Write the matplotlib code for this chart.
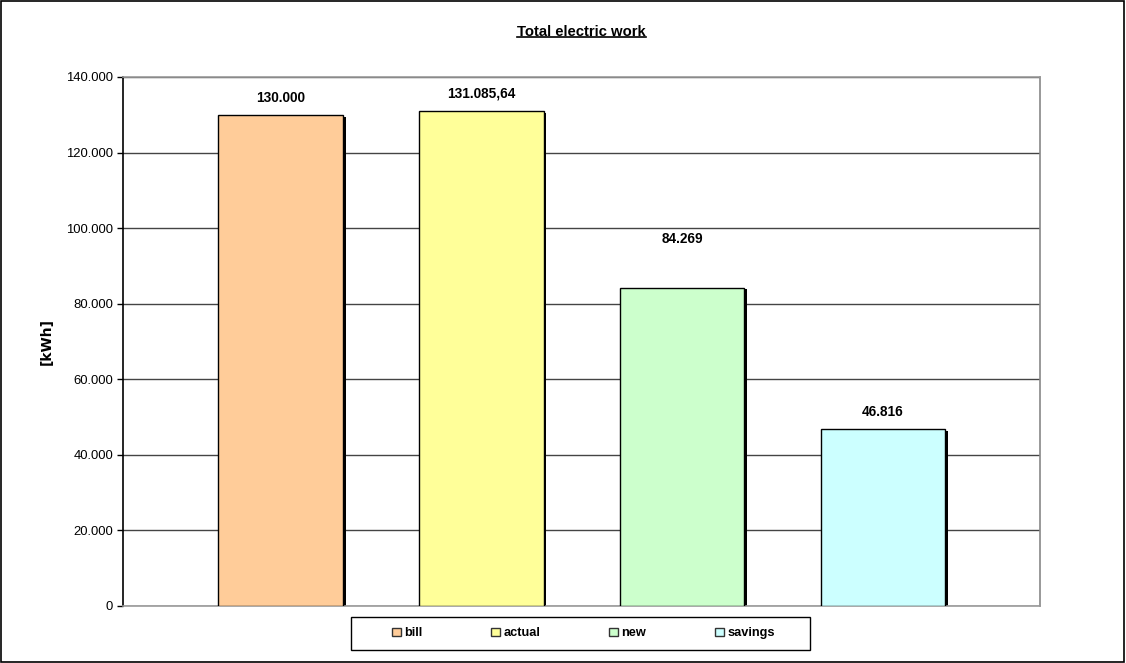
import matplotlib.pyplot as plt
from matplotlib.patches import Patch, Rectangle
from matplotlib.lines import Line2D
from matplotlib.ticker import FuncFormatter

plt.rcParams['font.family'] = ['Liberation Sans', 'DejaVu Sans']

# data
categories = ['bill', 'actual', 'new', 'savings']
values = [130000, 131085.64, 84269, 46816]
value_labels = ['130.000', '131.085,64', '84.269', '46.816']
colors = ['#FFCC99', '#FFFF99', '#CCFFCC', '#CCFFFF']
label_offsets = [7, 7, 30, 7]  # points above bar top

fig = plt.figure(figsize=(11.26, 6.63), dpi=100)
ax = fig.add_axes([0.1092, 0.086, 0.8144, 0.7979])

x = list(range(len(categories)))
width = 0.62

# drop shadow behind bars
for xi, v in zip(x, values):
    ax.bar(xi + 0.013, v - 500, width=width, bottom=0, color='black',
           edgecolor='none', zorder=2)
bars = ax.bar(x, values, width=width, color=colors, edgecolor='black',
              linewidth=1, zorder=3)

for xi, v, lab, off in zip(x, values, value_labels, label_offsets):
    ax.annotate(lab, (xi, v), xytext=(0, off), textcoords='offset points',
                ha='center', va='bottom', fontsize=9.8, fontweight='bold')

ax.set_xlim(-0.786, 3.783)
ax.set_ylim(0, 140000)
ax.set_yticks(range(0, 140001, 20000))
ax.yaxis.set_major_formatter(FuncFormatter(lambda v, p: f'{int(v):,}'.replace(',', '.')))
ax.tick_params(axis='y', labelsize=9.4, length=4, width=1, direction='out', pad=3)
ax.set_xticks([])
ax.grid(axis='y', color='#444444', linewidth=1, zorder=0)
ax.set_axisbelow(True)

ax.spines['left'].set_color('black')
ax.spines['bottom'].set_color('#999999')
ax.spines['top'].set_color('#999999')
ax.spines['right'].set_color('#888888')
for s in ax.spines.values():
    s.set_linewidth(1.2)

ax.set_ylabel('[kWh]', fontsize=10, fontweight='bold', labelpad=9,
              family=['DejaVu Sans'])

title = fig.text(0.5165, 0.952, 'Total electric work', ha='center', va='center',
                 fontsize=10.7, fontweight='bold')

handles = [Patch(facecolor=c, edgecolor='#333333', linewidth=1) for c in colors]
leg = fig.legend(handles, categories, loc='center', bbox_to_anchor=(0.518, 0.0445),
                 ncol=4, frameon=False, prop={'size': 9.2, 'weight': 'bold'},
                 handlelength=0.7, handleheight=0.7, handletextpad=0.25,
                 columnspacing=5.4, borderpad=0, borderaxespad=0)

# legend box
fig.add_artist(Rectangle((351 / 1126, 1 - 650 / 663), 459 / 1126, 33 / 663,
                         transform=fig.transFigure, fill=False,
                         edgecolor='black', linewidth=1))

# underline title
fig.canvas.draw()
bb = title.get_window_extent().transformed(fig.transFigure.inverted())
fig.add_artist(Line2D([bb.x0, bb.x1], [bb.y0 + 0.002, bb.y0 + 0.002],
                      transform=fig.transFigure, color='black', linewidth=1.2))

# figure border
fig.add_artist(Rectangle((0.001, 0.001), 0.997, 0.997, transform=fig.transFigure,
                         fill=False, edgecolor='black', linewidth=1.2))

fig.savefig('out.png', dpi=100)
